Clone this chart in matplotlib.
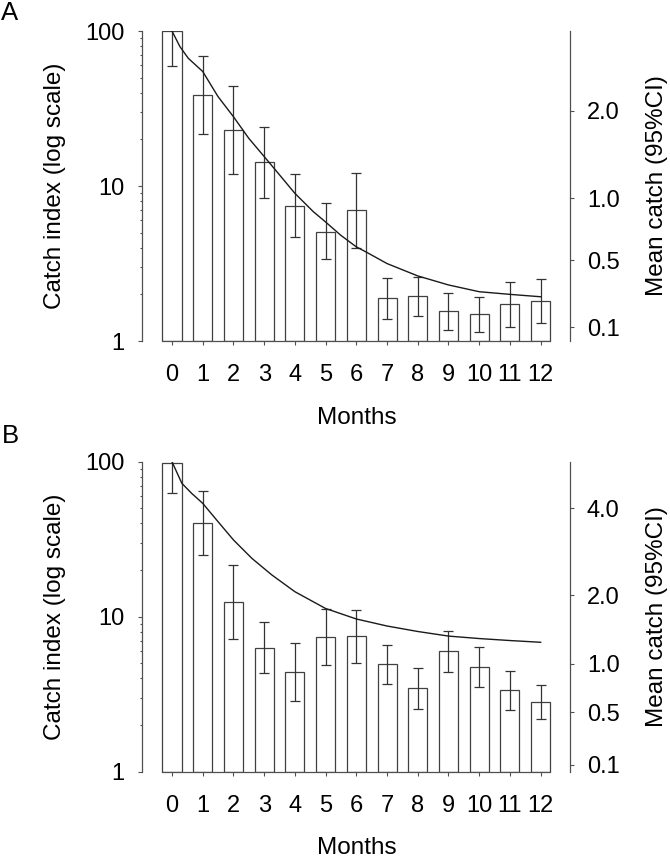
import numpy as np
import matplotlib
matplotlib.use('Agg')
import matplotlib.pyplot as plt
from matplotlib.ticker import NullLocator, NullFormatter, LogLocator

plt.rcParams['font.family'] = ['Liberation Sans', 'DejaVu Sans']

months = np.arange(13)
month_labels = [str(m) for m in months]

# panel A: catch index per month (bars) with 95% CI, and fitted curve
bar_a = [100, 38.6, 23.0, 14.3, 7.46, 5.07, 7.0, 1.89, 1.95, 1.56, 1.49, 1.73, 1.82]
lo_a = [59.7, 21.6, 11.9, 8.41, 4.67, 3.37, 3.96, 1.39, 1.44, 1.18, 1.15, 1.24, 1.30]
hi_a = [167, 69.0, 44.4, 24.1, 11.9, 7.73, 12.2, 2.56, 2.60, 2.05, 1.91, 2.40, 2.52]
curve_a_x = [0, 0.26, 0.53, 1.0, 1.5, 2.0, 2.5, 3.0, 3.5, 4.0, 4.6, 5.0, 5.5, 6.0, 6.3,
             7, 8, 9, 10, 11, 12]
curve_a_y = [100, 79.2, 66.7, 54.8, 37.7, 28.0, 20.3, 15.5, 11.8, 8.97, 6.83, 5.86, 4.8,
             4.05, 3.77, 3.16, 2.63, 2.30, 2.08, 2.0, 1.93]
right_lim_a = (0.031, 3.34)
right_ticks_a = [0.1, 0.5, 1.0, 2.0]

# panel B
bar_b = [97.6, 40.4, 12.5, 6.25, 4.42, 7.36, 7.5, 4.93, 3.47, 6.04, 4.76, 3.37, 2.82]
lo_b = [62.5, 25.1, 7.18, 4.31, 2.87, 4.88, 5.05, 3.66, 2.55, 4.42, 3.5, 2.5, 2.19]
hi_b = [153, 64.7, 21.5, 9.2, 6.74, 11.2, 11.0, 6.57, 4.69, 8.13, 6.4, 4.48, 3.63]
curve_b_x = [0, 0.32, 0.64, 1.0, 1.5, 2.0, 2.6, 3.25, 4.0, 5.0, 6.0, 7, 8, 9, 10, 11, 12]
curve_b_y = [100, 72.6, 62.5, 53.9, 41.0, 31.3, 23.8, 18.6, 14.5, 11.3, 9.67, 8.71, 8.03,
             7.5, 7.23, 7.02, 6.84]
right_lim_b = (0.057, 5.59)
right_ticks_b = [0.1, 0.5, 1.0, 2.0, 4.0]

spine_col = '#505050'
bar_col = '#404040'


def fwd(v):
    return np.log10(np.asarray(v, dtype=float) + 1)


def inv(v):
    return 10 ** np.asarray(v, dtype=float) - 1


def draw_panel(ax, bars, lo, hi, cx, cy, right_lim, right_ticks):
    bars = np.array(bars)
    ax.set_yscale('log')
    ax.bar(months, bars - 1, bottom=1, width=0.62, facecolor='white',
           edgecolor=bar_col, linewidth=0.9, zorder=2)
    ax.errorbar(months, bars, yerr=[bars - np.array(lo), np.array(hi) - bars],
                fmt='none', ecolor='#333333', elinewidth=0.9, capsize=3.4,
                capthick=0.9, zorder=3)
    ax.plot(cx, cy, color='#1a1a1a', lw=1.0, zorder=4)

    ax.set_xlim(-0.977, 12.954)
    ax.set_ylim(1, 100)
    ax.set_xticks(months, month_labels)
    ax.set_yticks([1, 10, 100], ['1', '10', '100'])
    ax.yaxis.set_minor_locator(LogLocator(subs=np.arange(2, 10)))
    ax.yaxis.set_minor_formatter(NullFormatter())
    ax.tick_params(axis='x', length=2.9, width=0.8, pad=13.5, labelsize=17,
                   color=spine_col)
    ax.tick_params(axis='y', which='major', length=3.1, width=0.8, pad=9.3,
                   labelsize=17, color=spine_col)
    ax.tick_params(axis='y', which='minor', length=1.7, width=0.8, color=spine_col)
    for s in ['top', 'right']:
        ax.spines[s].set_visible(False)
    for s in ['left', 'bottom']:
        ax.spines[s].set_color(spine_col)
        ax.spines[s].set_linewidth(0.9)
    ax.spines['bottom'].set_bounds(-0.31, 12.31)
    ax.set_xlabel('Months', fontsize=17.5)
    ax.xaxis.set_label_coords(0.502, -0.212)
    ax.xaxis.label.set_va('top')
    ax.set_ylabel('Catch index (log scale)', fontsize=17.5)
    ax.yaxis.set_label_coords(-0.178, 0.5)

    tw = ax.twinx()
    tw.set_yscale('function', functions=(fwd, inv))
    tw.set_ylim(right_lim)
    tw.set_yticks(right_ticks, ['%.1f' % t for t in right_ticks])
    tw.yaxis.set_minor_locator(NullLocator())
    tw.tick_params(axis='y', length=3.1, width=0.8, pad=9, labelsize=17,
                   color=spine_col)
    for s in ['top', 'left', 'bottom']:
        tw.spines[s].set_visible(False)
    tw.spines['right'].set_color(spine_col)
    tw.spines['right'].set_linewidth(0.9)
    tw.set_ylabel('Mean catch (95%CI)', fontsize=17.5)
    tw.yaxis.set_label_coords(1.1776, 0.5)
    return tw


fig = plt.figure(figsize=(6.7, 8.59), dpi=100)
ax_a = fig.add_axes([0.2119, 0.6030, 0.6388, 0.3609])
ax_b = fig.add_axes([0.2119, 0.1016, 0.6388, 0.3609])

draw_panel(ax_a, bar_a, lo_a, hi_a, curve_a_x, curve_a_y, right_lim_a, right_ticks_a)
draw_panel(ax_b, bar_b, lo_b, hi_b, curve_b_x, curve_b_y, right_lim_b, right_ticks_b)

fig.text(10 / 670, 1 - 13 / 859, 'A', fontsize=18.5, ha='center', va='center')
fig.text(10 / 670, 1 - 436 / 859, 'B', fontsize=18.5, ha='center', va='center')

fig.savefig('out.png', dpi=100)
